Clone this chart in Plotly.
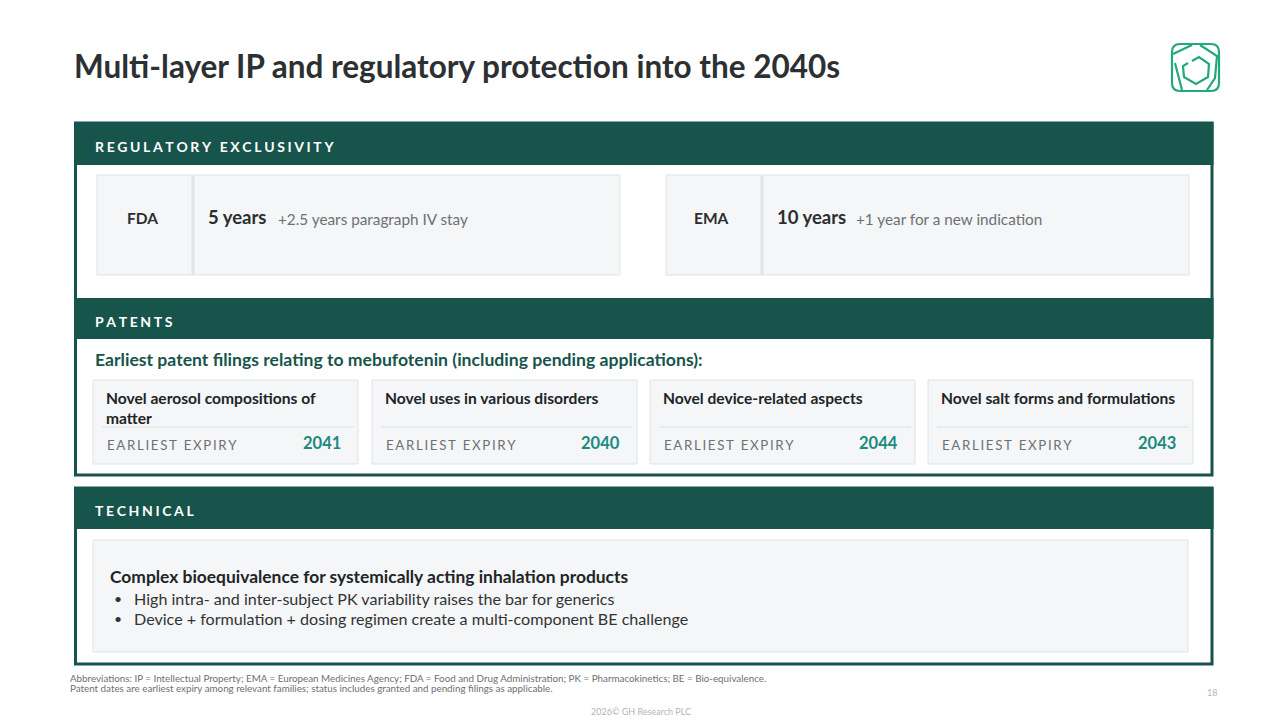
import plotly.graph_objects as go

# ── content ───────────────────────────────────────────────────────────────────
TITLE = "Multi-layer IP and regulatory protection into the 2040s"

section_names = ["REGULATORY EXCLUSIVITY", "PATENTS", "TECHNICAL"]

agencies = ["FDA", "EMA"]
base_terms = ["5 years", "10 years"]
extensions = ["+2.5 years paragraph IV stay", "+1 year for a new indication"]

patent_intro = "Earliest patent filings relating to mebufotenin (including pending applications):"
patent_titles = [
    "Novel aerosol compositions of<br>matter",
    "Novel uses in various disorders",
    "Novel device-related aspects",
    "Novel salt forms and formulations",
]
expiry_label = "EARLIEST EXPIRY"
expiry_years = [2041, 2040, 2044, 2043]

tech_heading = "Complex bioequivalence for systemically acting inhalation products"
tech_bullets = [
    "High intra- and inter-subject PK variability raises the bar for generics",
    "Device + formulation + dosing regimen create a multi-component BE challenge",
]

footnotes = [
    "Abbreviations: IP = Intellectual Property; EMA = European Medicines Agency; FDA = Food and Drug Administration; "
    "PK = Pharmacokinetics; BE = Bio-equivalence.",
    "Patent dates are earliest expiry among relevant families; status includes granted and pending filings as applicable.",
]
copyright_txt = "2026© GH Research PLC"
page_no = "18"

# ── style ─────────────────────────────────────────────────────────────────────
FONT = "Lato"
DARK_GREEN = "#17544b"
TEAL = "#1b8a80"
LOGO_GREEN = "#21a87b"
CARD_FILL = "#f4f6f7"
CARD_LINE = "#dfe3e6"
TEXT = "#2b2e31"
GREY = "#6e7173"
PAGE_OFFSET = 8   # html body margin, compensated in the axis ranges
TEXT_PAD = 2      # annotation box padding, pulled back so text starts where intended


def spaced(s, sep="\u2009"):
    """fake letter-spacing with thin spaces"""
    return sep.join(list(s))


fig = go.Figure()
shapes = []
notes = []


def rect(x0, y0, x1, y1, fill=None, line=None, width=1):
    shapes.append(dict(type="rect", x0=x0, y0=y0, x1=x1, y1=y1, xref="x", yref="y",
                       fillcolor=fill or "rgba(0,0,0,0)",
                       line=dict(color=line or "rgba(0,0,0,0)", width=width if line else 0)))


def hline(x0, x1, y, color, width=1):
    shapes.append(dict(type="line", x0=x0, x1=x1, y0=y, y1=y, xref="x", yref="y",
                       line=dict(color=color, width=width)))


def vline(x, y0, y1, color, width=1):
    shapes.append(dict(type="line", x0=x, x1=x, y0=y0, y1=y1, xref="x", yref="y",
                       line=dict(color=color, width=width)))


def text(x, y, s, size=14, color=TEXT, bold=False, xa="left", ya="middle"):
    dx = {"left": -TEXT_PAD, "right": TEXT_PAD, "center": 0}[xa]
    notes.append(dict(x=x + dx, y=y, xref="x", yref="y", text=f"<b>{s}</b>" if bold else s,
                      showarrow=False, xanchor=xa, yanchor=ya, align=xa,
                      font=dict(family=FONT, size=size, color=color)))


# ── title + logo ──────────────────────────────────────────────────────────────
text(74, 66, TITLE, size=31.5, color="#2d3033", bold=True)

lx, ly, ls = 1172, 44, 47
shapes.append(dict(type="path", xref="x", yref="y",
                   path=(f"M{lx+8},{ly} L{lx+ls-8},{ly} Q{lx+ls},{ly} {lx+ls},{ly+8} "
                         f"L{lx+ls},{ly+ls-8} Q{lx+ls},{ly+ls} {lx+ls-8},{ly+ls} "
                         f"L{lx+8},{ly+ls} Q{lx},{ly+ls} {lx},{ly+ls-8} L{lx},{ly+8} Q{lx},{ly} {lx+8},{ly} Z"),
                   line=dict(color=LOGO_GREEN, width=2.2)))
shapes.append(dict(type="path", xref="x", yref="y",
                   path=(f"M{lx+1},{ly+10} L{lx+20},{ly+1} M{lx+28},{ly+1} L{lx+45},{ly+12} "
                         f"L{lx+43},{ly+34} L{lx+35},{ly+46} M{lx+3},{ly+19} L{lx+10},{ly+46}"),
                   line=dict(color=LOGO_GREEN, width=2.2)))
shapes.append(dict(type="path", xref="x", yref="y",
                   path=(f"M{lx+20},{ly+17} L{lx+27},{ly+13} L{lx+37},{ly+20} L{lx+36},{ly+33} "
                         f"L{lx+24},{ly+40} L{lx+12},{ly+33} L{lx+11},{ly+22} L{lx+16},{ly+19}"),
                   line=dict(color=LOGO_GREEN, width=2.2)))

# ── big frames ────────────────────────────────────────────────────────────────
rect(75.5, 123, 1212, 475, line=DARK_GREEN, width=3)
rect(74, 122, 1213.5, 165, fill=DARK_GREEN)
rect(74, 298, 1213.5, 339, fill=DARK_GREEN)
rect(75.5, 488, 1212, 664, line=DARK_GREEN, width=3)
rect(74, 487, 1213.5, 529, fill=DARK_GREEN)

for name, yc in zip(section_names, [146, 321, 510]):
    text(95, yc, spaced(name, "\u2009\u200a"), size=14, color="white", bold=True)

# ── regulatory boxes ──────────────────────────────────────────────────────────
reg_x0 = [97, 666]
reg_w = 523
for i, (ag, term, ext) in enumerate(zip(agencies, base_terms, extensions)):
    x0 = reg_x0[i]
    rect(x0, 175, x0 + reg_w, 275, fill=CARD_FILL, line=CARD_LINE, width=1)
    vline(x0 + 96, 175.5, 274.5, "#e1e4e7", width=3)
    text(x0 + 45, 218, ag, size=15.5, color=TEXT, bold=True, xa="center")
    text(x0 + 111, 217, term, size=18.5, color=TEXT, bold=True)
    text(x0 + 111 + (70 if i == 0 else 79), 219, ext, size=15.3, color=GREY)

# ── patent cards ──────────────────────────────────────────────────────────────
text(95, 359, patent_intro, size=17.6, color=DARK_GREEN, bold=True)

card_x0 = [93, 372, 650, 928]
card_w = 265
for x0, title, yr in zip(card_x0, patent_titles, expiry_years):
    rect(x0, 380, x0 + card_w, 464, fill=CARD_FILL, line=CARD_LINE, width=1)
    hline(x0 + 9, x0 + card_w - 4, 427, "#dde1e4", width=1)
    text(x0 + 13, 387, title, size=15.6, color="#222426", ya="top", bold=True)
    text(x0 + 14, 445, spaced(expiry_label), size=13.3, color=GREY)
    text(x0 + 248, 443, str(yr), size=16.5, color=TEAL, bold=True, xa="right")

# ── technical box ─────────────────────────────────────────────────────────────
rect(93, 540, 1188, 652, fill=CARD_FILL, line=CARD_LINE, width=1)
text(110, 576, tech_heading, size=17.4, color="#222426", bold=True)
for k, b in enumerate(tech_bullets):
    yb = 598 + 20 * k
    text(114, yb, "•", size=14, color="#333")
    text(134, yb, b, size=16.1, color="#333")

# ── footer ────────────────────────────────────────────────────────────────────
for k, f in enumerate(footnotes):
    text(70, 678 + 10 * k, f, size=9.8, color="#6d6f72")
text(641, 711, copyright_txt, size=9, color="#b3b5b8", xa="center")
text(1212, 692, page_no, size=9, color="#b3b5b8", xa="center")

fig.update_layout(
    width=1280, height=720,
    margin=dict(l=0, r=0, t=0, b=0),
    paper_bgcolor="white", plot_bgcolor="white",
    xaxis=dict(range=[PAGE_OFFSET, 1280 + PAGE_OFFSET], visible=False, fixedrange=True),
    yaxis=dict(range=[720 + PAGE_OFFSET, PAGE_OFFSET], visible=False, fixedrange=True),
    shapes=shapes,
    annotations=notes,
    showlegend=False,
)

fig.write_html("out.html", config=dict(displayModeBar=False))
